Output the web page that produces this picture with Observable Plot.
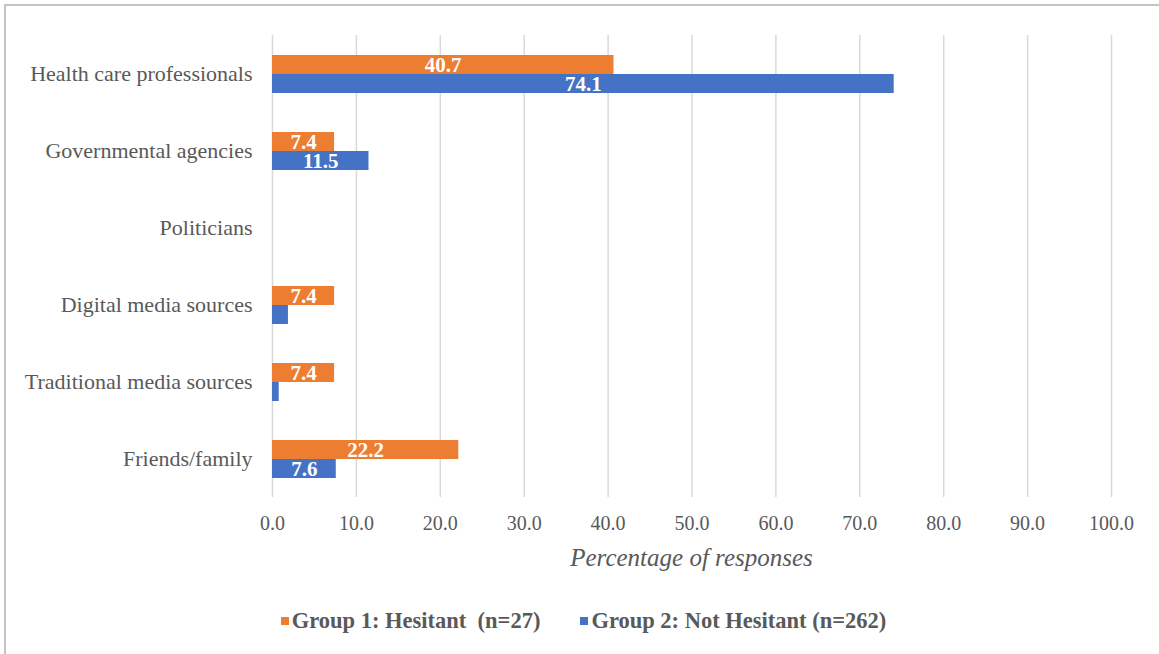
<!DOCTYPE html>
<html>
<head>
<meta charset="utf-8">
<script src="https://cdn.jsdelivr.net/npm/d3@7"></script>
<script src="https://cdn.jsdelivr.net/npm/@observablehq/plot@0.6"></script>
<style>
  html, body { margin: 0; padding: 0; background: #fff; }
  #frame {
    position: absolute; left: 0; top: 0; width: 1159px; height: 654px;
    font-family: "Liberation Serif", "Times New Roman", serif; color: #595959;
  }
  #border {
    position: absolute; left: 4px; top: 4px; right: 0; bottom: 0;
    border-left: 2px solid #c4c4c4; border-top: 2px solid #c4c4c4;
  }
  #chart { position: absolute; left: 0; top: 0; }
  #chart svg g[aria-label^="fy-axis"] text { font-size: 22px; }
  #chart svg g[aria-label^="x-axis"] text { font-size: 20px; }
  #xtitle {
    position: absolute; left: 272px; width: 839px; top: 544px;
    text-align: center; font-style: italic; font-size: 25px; line-height: 28px;
  }
  #legend {
    position: absolute; left: 0; width: 1159px; top: 607px;
    display: flex; justify-content: center; gap: 40px;
    font-weight: bold; font-size: 22.5px; line-height: 28px; padding-left: 8px; box-sizing: border-box;
  }
  .item { display: flex; align-items: center; gap: 3px; white-space: pre; }
  .sw { width: 8px; height: 8px; display: inline-block; }
</style>
</head>
<body>
<div id="frame">
  <div id="border"></div>
  <div id="chart"></div>
  <div id="xtitle">Percentage of responses</div>
  <div id="legend"></div>
</div>
<script>
const categories = [
  "Health care professionals",
  "Governmental agencies",
  "Politicians",
  "Digital media sources",
  "Traditional media sources",
  "Friends/family"
];
const groups = ["Group 1: Hesitant  (n=27)", "Group 2: Not Hesitant (n=262)"];
const hesitant = [40.7, 7.4, 0, 7.4, 7.4, 22.2];
const notHesitant = [74.1, 11.5, 0, 1.9, 0.8, 7.6];
const labelledHesitant = [true, true, false, true, true, true];
const labelledNotHesitant = [true, true, false, false, false, true];
const xTicks = [0, 10, 20, 30, 40, 50, 60, 70, 80, 90, 100];
const colors = ["#ED7D31", "#4472C4"];

const data = [];
categories.forEach((c, i) => {
  data.push({category: c, group: groups[0], value: hesitant[i], show: labelledHesitant[i]});
  data.push({category: c, group: groups[1], value: notHesitant[i], show: labelledNotHesitant[i]});
});

const chart = Plot.plot({
  width: 1159,
  height: 538,
  marginTop: 33,
  marginBottom: 40,
  marginLeft: 272,
  marginRight: 48,
  style: {fontFamily: "Liberation Serif, Times New Roman, serif", fontSize: "20px", color: "#595959", background: "transparent", overflow: "visible"},
  x: {domain: [0, 100], ticks: xTicks, tickFormat: d3.format(".1f"), tickSize: 0, tickPadding: 18, label: null},
  y: {domain: groups, axis: null, paddingInner: 0, paddingOuter: 0.9375},
  fy: {domain: categories, padding: 0, axis: "left", tickSize: 0, tickPadding: 20, label: null},
  color: {domain: groups, range: colors},
  marks: [
    Plot.ruleX(xTicks, {x: d => d, stroke: "#d9d9d9", strokeWidth: 1.5}),
    Plot.barX(data, {fy: "category", y: "group", x: "value", fill: "group"}),
    Plot.text(data.filter(d => d.show), {
      fy: "category", y: "group", x: d => d.value / 2, text: d => d3.format(".1f")(d.value),
      fill: "white", fontWeight: "bold", fontSize: 21, dy: 0.5
    })
  ]
});
document.getElementById("chart").appendChild(chart);

const legend = document.getElementById("legend");
groups.forEach((g, i) => {
  const item = document.createElement("div");
  item.className = "item";
  const sw = document.createElement("span");
  sw.className = "sw";
  sw.style.background = colors[i];
  const t = document.createElement("span");
  t.textContent = g;
  item.appendChild(sw);
  item.appendChild(t);
  legend.appendChild(item);
});
</script>
</body>
</html>
